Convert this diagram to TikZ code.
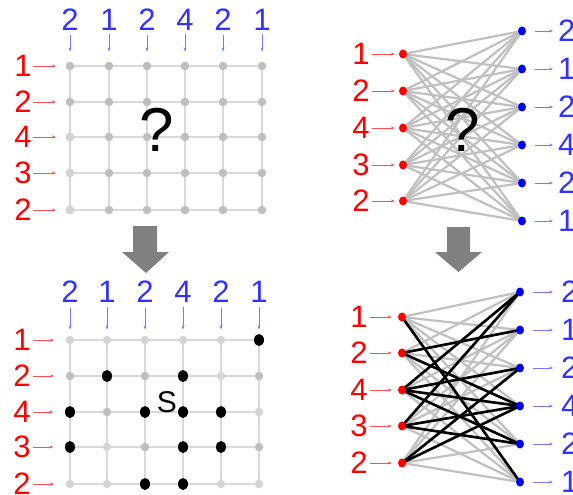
\documentclass[tikz,border=0pt]{standalone}
\usepackage{fontspec}
\setmainfont{Liberation Sans}
\usetikzlibrary{arrows.meta,shapes.geometric}
\pgfdeclarelayer{bg}
\pgfdeclarelayer{paper}
\pgfsetlayers{paper,bg,main}
\definecolor{bluetext}{RGB}{50,50,255}
\definecolor{bluearrow}{RGB}{120,120,255}
\definecolor{redarrow}{RGB}{255,80,80}
\definecolor{gridgray}{RGB}{217,217,217}
\definecolor{dotgray}{RGB}{190,190,190}
\definecolor{dotlight}{RGB}{212,212,212}
\definecolor{edgegray}{RGB}{192,192,192}
\definecolor{arrowgray}{RGB}{128,128,128}
\definecolor{dotred}{RGB}{250,0,0}
\definecolor{dotblue}{RGB}{0,0,250}
\tikzset{
  ptd/.style={circle,fill=dotgray,inner sep=0pt,minimum size=8.5pt},
  ptl/.style={circle,fill=dotlight,inner sep=0pt,minimum size=8.5pt},
  ptk/.style={ellipse,fill=black,inner sep=0pt,minimum width=10pt,minimum height=12pt},
  rdot/.style={ellipse,fill=dotred,inner sep=0pt,minimum width=8pt,minimum height=9pt},
  udot/.style={ellipse,fill=dotblue,inner sep=0pt,minimum width=8pt,minimum height=9pt},
  gridline/.style={draw=gridgray,line width=1.5pt},
  redlab/.style={text=red,font=\fontsize{31}{31}\selectfont,inner sep=0pt},
  bluelab/.style={text=bluetext,font=\fontsize{31}{31}\selectfont,inner sep=0pt},
  redarr/.style={draw=redarrow,line width=0.8pt,-{Stealth[length=4pt,width=3pt]}},
  bluearr/.style={draw=bluearrow,line width=0.8pt,-{Stealth[length=4pt,width=3pt]}},
  gedge/.style={draw=edgegray,line width=2.2pt},
  kedge/.style={draw=black,line width=2.6pt},
  bigq/.style={font=\fontsize{62}{62}\selectfont,inner sep=0pt},
}
\begin{document}
\begin{tikzpicture}[x=1pt,y=-1pt]
\clip (0,0) rectangle (573,495);
\begin{pgfonlayer}{paper}
\fill[white] (0,0) rectangle (573,495);
\end{pgfonlayer}

% ---------- top-left grid ----------
\foreach \y [count=\r] in {66,102,137,173,210}{
  \foreach \x [count=\c] in {70,109,147,185,223,262}{
    \node[ptd] (a\r\c) at (\x,\y) {};
  }
}
\node[ptl] at (a31) {};
\node[ptl] at (a41) {};
\node[ptl] at (a51) {};
\begin{pgfonlayer}{bg}
  \foreach \r in {1,...,5} \draw[gridline] (a\r1.center) -- (a\r6.center);
  \foreach \c in {1,...,6} \draw[gridline] (a1\c.center) -- (a5\c.center);
\end{pgfonlayer}
\foreach \v [count=\c] in {2,1,2,4,2,1}{
  \node[bluelab] (at\c) at (a1\c |- 0,20) {\v};
  \draw[bluearr,shorten <=3.5pt,shorten >=10pt] (at\c.south) -- (a1\c.north);
}
\foreach \v [count=\r] in {1,2,4,3,2}{
  \node[redlab] (al\r) at (23,0 |- a\r1) {\v};
  \draw[redarr,shorten <=1.5pt,shorten >=9.5pt] (al\r.east) -- (a\r1.west);
}
\node[bigq] (qa) at (157,130) {?};

% ---------- bottom-left grid ----------
\foreach \y [count=\r] in {340,376,412,447,484}{
  \foreach \x [count=\c] in {70,107,145,183,221,259}{
    \coordinate (bc\r\c) at (\x,\y);
  }
}
\foreach \r/\sty in {1/{l,l,l,l,l,k},2/{d,k,d,k,l,d},3/{k,d,k,k,k,l},4/{k,l,d,k,k,d},5/{l,l,k,k,l,l}}{
  \foreach \s [count=\c] in \sty{
    \node[pt\s] (b\r\c) at (bc\r\c) {};
  }
}
\begin{pgfonlayer}{bg}
  \foreach \r in {1,...,5} \draw[gridline] (b\r1.center) -- (b\r6.center);
  \foreach \c in {1,...,6} \draw[gridline] (b1\c.center) -- (b5\c.center);
\end{pgfonlayer}
\foreach \v [count=\c] in {2,1,2,4,2,1}{
  \node[bluelab] (bt\c) at (bc1\c |- 0,292) {\v};
  \draw[bluearr,shorten <=4.5pt,shorten >=10.5pt] (bt\c.south) -- (bc1\c);
}
\foreach \v [count=\r] in {1,2,4,3,2}{
  \node[redlab] (bl\r) at (22,0 |- bc\r1) {\v};
  \draw[redarr,shorten <=2.5pt,shorten >=11.5pt] (bl\r.east) -- (b\r1.west);
}
\node[font=\fontsize{30}{30}\selectfont,inner sep=0pt] (sl) at (167,402) {S};

% ---------- top-right bipartite ----------
\foreach \y [count=\i] in {54,91,128,165,201} \node[rdot] (r\i) at (403,\y) {};
\foreach \y [count=\j] in {31,69,107,145,183,221} \node[udot] (u\j) at (522,\y) {};
\begin{pgfonlayer}{bg}
  \foreach \i in {1,...,5}{\foreach \j in {1,...,6}{\draw[gedge] (r\i.center) -- (u\j.center);}}
\end{pgfonlayer}
\foreach \v [count=\i] in {1,2,4,3,2}{
  \node[redlab] (rl\i) at (361,0 |- r\i) {\v};
  \draw[redarr,shorten <=2.5pt,shorten >=4pt] (rl\i.east) -- (r\i.west);
}
\foreach \v [count=\j] in {2,1,2,4,2,1}{
  \node[bluelab,anchor=west] (ul\j) at (558,0 |- u\j) {\v};
  \draw[bluearr,shorten <=9pt,shorten >=5pt] (u\j.east) -- (ul\j.west);
}
\node[bigq] (qb) at (463,130) {?};

% ---------- bottom-right bipartite ----------
\foreach \y [count=\i] in {317,353,390,426,463} \node[rdot] (p\i) at (402,\y) {};
\foreach \y [count=\j] in {292,330,368,406,444,482} \node[udot] (q\j) at (520,\y) {};
\begin{pgfonlayer}{bg}
  \foreach \i in {1,...,5}{\foreach \j in {1,...,6}{\draw[gedge] (p\i.center) -- (q\j.center);}}
  \foreach \i/\j in {1/6,2/2,2/4,3/1,3/3,3/4,3/5,4/1,4/4,4/5,5/3,5/4}{
    \draw[kedge] (p\i.center) -- (q\j.center);
  }
\end{pgfonlayer}
\foreach \v [count=\i] in {1,2,4,3,2}{
  \node[redlab] (pl\i) at (359,0 |- p\i) {\v};
  \draw[redarr,shorten <=2.5pt,shorten >=6pt] (pl\i.east) -- (p\i.west);
}
\foreach \v [count=\j] in {2,1,2,4,2,1}{
  \node[bluelab,anchor=west] (ql\j) at (561,0 |- q\j) {\v};
  \draw[bluearr,shorten <=9pt,shorten >=8pt] (q\j.east) -- (ql\j.west);
}

% ---------- big arrows ----------
\fill[arrowgray] (133,226) -- (157,226) -- (157,252) -- (169,252) -- (146,273) -- (122,252) -- (133,252) -- cycle;
\fill[arrowgray] (447,227) -- (470,227) -- (470,252) -- (482,252) -- (458.5,272) -- (435,252) -- (447,252) -- cycle;
\end{tikzpicture}
\end{document}
